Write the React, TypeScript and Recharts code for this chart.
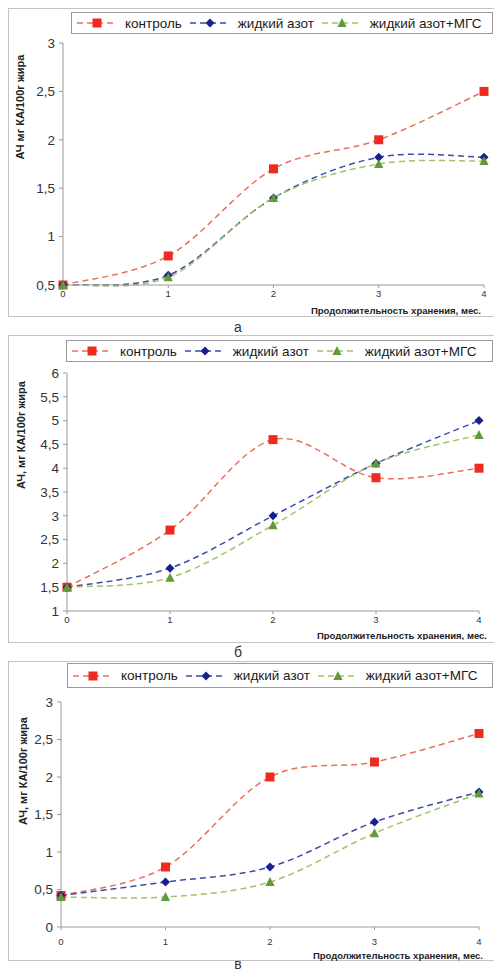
import React from 'react';
import { LineChart, Line, XAxis, YAxis, Legend } from 'recharts';

const months = [0, 1, 2, 3, 4];
const seriesNames = ['контроль', 'жидкий азот', 'жидкий азот+МГС'];

const aControl = [0.5, 0.8, 1.7, 2.0, 2.5];
const aNitrogen = [0.5, 0.6, 1.4, 1.82, 1.82];
const aNitrogenMgs = [0.5, 0.58, 1.4, 1.75, 1.78];
const aTicks = [0.5, 1, 1.5, 2, 2.5, 3];

const bControl = [1.5, 2.7, 4.6, 3.8, 4.0];
const bNitrogen = [1.5, 1.9, 3.0, 4.1, 5.0];
const bNitrogenMgs = [1.5, 1.7, 2.8, 4.1, 4.7];
const bTicks = [1, 1.5, 2, 2.5, 3, 3.5, 4, 4.5, 5, 5.5, 6];

const vControl = [0.42, 0.8, 2.0, 2.2, 2.58];
const vNitrogen = [0.42, 0.6, 0.8, 1.4, 1.8];
const vNitrogenMgs = [0.4, 0.4, 0.6, 1.25, 1.78];
const vTicks = [0, 0.5, 1, 1.5, 2, 2.5, 3];

const xLabel = 'Продолжительность хранения, мес.';
const captions = ['а', 'б', 'в'];

const FONT = '"Liberation Sans", Arial, sans-serif';
const RED = '#ef2a1e';
const RED_LINE = '#e8705a';
const BLUE = '#17208c';
const BLUE_LINE = '#3a4ca8';
const GREEN = '#5f9a3c';
const GREEN_LINE = '#a2c264';

// Excel-like smoothed line (Catmull-Rom style bezier)
function excelCurve(context: any) {
  let pts: number[][] = [];
  return {
    areaStart() {},
    areaEnd() {},
    lineStart() {
      pts = [];
    },
    lineEnd() {
      if (!pts.length) return;
      context.moveTo(pts[0][0], pts[0][1]);
      const t = 1 / 6;
      for (let i = 0; i < pts.length - 1; i++) {
        const p0 = pts[i - 1] || pts[i];
        const p1 = pts[i];
        const p2 = pts[i + 1];
        const p3 = pts[i + 2] || p2;
        context.bezierCurveTo(
          p1[0] + (p2[0] - p0[0]) * t,
          p1[1] + (p2[1] - p0[1]) * t,
          p2[0] - (p3[0] - p1[0]) * t,
          p2[1] - (p3[1] - p1[1]) * t,
          p2[0],
          p2[1]
        );
      }
    },
    point(x: number, y: number) {
      pts.push([+x, +y]);
    },
  };
}

function markerShape(kind: number, cx: number, cy: number, key?: any) {
  if (kind === 0) {
    const s = 9;
    return <rect key={key} x={cx - s / 2} y={cy - s / 2} width={s} height={s} fill={RED} />;
  }
  if (kind === 1) {
    const r = 4.5;
    return (
      <polygon
        key={key}
        points={`${cx},${cy - r} ${cx + r},${cy} ${cx},${cy + r} ${cx - r},${cy}`}
        fill={BLUE}
      />
    );
  }
  const h = 8;
  return (
    <polygon
      key={key}
      points={`${cx},${cy - h / 2 - 1} ${cx + 4.6},${cy + h / 2} ${cx - 4.6},${cy + h / 2}`}
      fill={GREEN}
    />
  );
}

const lineColors = [RED_LINE, BLUE_LINE, GREEN_LINE];

function LegendBox(props: any) {
  const payload = [...(props.payload || [])].sort(
    (a: any, b: any) => seriesNames.indexOf(a.value) - seriesNames.indexOf(b.value)
  );
  return (
    <div
      style={{
        boxSizing: 'border-box',
        width: '100%',
        height: '100%',
        border: '1px solid #9a9a9a',
        display: 'flex',
        alignItems: 'center',
        paddingLeft: 5,
        fontFamily: FONT,
        fontSize: 13.5,
        color: '#1a1a1a',
        background: '#fff',
      }}
    >
      {payload.map((p: any) => {
        const i = seriesNames.indexOf(p.value);
        return (
          <div key={p.value} style={{ display: 'flex', alignItems: 'center', marginRight: 8 }}>
            <svg width={38} height={12} style={{ display: 'block' }}>
              <line x1={0} y1={6} x2={38} y2={6} stroke={lineColors[i]} strokeWidth={1.5} strokeDasharray="6 4" />
              {markerShape(i, 20, 6)}
            </svg>
            <span style={{ marginLeft: 10, whiteSpace: 'nowrap' }}>{p.value}</span>
          </div>
        );
      })}
    </div>
  );
}

type PanelProps = {
  top: number;
  height: number;
  control: number[];
  nitrogen: number[];
  nitrogenMgs: number[];
  ticks: number[];
  yLabel: string;
  plotTop: number;
  plotBottom: number;
  plotLeft: number;
  plotRight: number;
  legend: { top: number; left: number; height: number };
  yLabelPos: { x: number; y: number };
  xLabelDy: number;
  xLabelRight: number;
  xTickDy: number;
};

function Panel(p: PanelProps) {
  const data = months.map((m, i) => ({
    month: m,
    control: p.control[i],
    nitrogen: p.nitrogen[i],
    nitrogenMgs: p.nitrogenMgs[i],
  }));
  const yAxisW = 40;
  const xAxisH = 20;
  const width = 494;
  const margin = {
    top: p.plotTop,
    bottom: p.height - p.plotBottom - xAxisH,
    left: p.plotLeft - yAxisW,
    right: width - p.plotRight,
  };
  const keys = ['control', 'nitrogen', 'nitrogenMgs'];
  return (
    <div style={{ position: 'absolute', left: 0, top: p.top, width, height: p.height }}>
      <LineChart width={width} height={p.height} data={data} margin={margin}>
        <XAxis
          dataKey="month"
          type="number"
          domain={[0, 4]}
          ticks={months}
          height={xAxisH}
          axisLine={{ stroke: '#9a9a9a' }}
          tickLine={{ stroke: '#9a9a9a' }}
          tickSize={3}
          tick={{ fontSize: 9.5, fill: '#333', fontFamily: FONT, dy: p.xTickDy - 11 }}
          label={{
            content: () => (
              <text
                x={p.xLabelRight}
                y={p.plotBottom + p.xLabelDy}
                textAnchor="end"
                dominantBaseline="central"
                fontSize={9.5}
                fontWeight="bold"
                fontFamily={FONT}
                fill="#222"
              >
                {xLabel}
              </text>
            ),
          }}
        />
        <YAxis
          type="number"
          domain={[p.ticks[0], p.ticks[p.ticks.length - 1]]}
          ticks={p.ticks}
          width={yAxisW}
          interval={0}
          axisLine={{ stroke: '#9a9a9a' }}
          tickLine={{ stroke: '#9a9a9a' }}
          tickSize={4}
          tickMargin={4}
          tickFormatter={(v: number) => String(v).replace('.', ',')}
          tick={{ fontSize: 13.5, fill: '#333', fontFamily: FONT }}
          label={{
            content: () => (
              <text
                x={p.yLabelPos.x}
                y={p.yLabelPos.y}
                transform={`rotate(-90, ${p.yLabelPos.x}, ${p.yLabelPos.y})`}
                textAnchor="middle"
                dominantBaseline="central"
                fontSize={11}
                fontWeight="bold"
                fontFamily={FONT}
                fill="#222"
              >
                {p.yLabel}
              </text>
            ),
          }}
        />
        <Legend
          layout="horizontal"
          verticalAlign="middle"
          align="center"
          wrapperStyle={{ top: p.legend.top, left: p.legend.left, width: width - p.legend.left - 1, height: p.legend.height }}
          content={<LegendBox />}
        />
        {keys.map((k, i) => (
          <Line
            key={k}
            dataKey={k}
            name={seriesNames[i]}
            type={excelCurve as any}
            stroke={lineColors[i]}
            strokeWidth={1.5}
            strokeDasharray="6 4"
            isAnimationActive={false}
            dot={(d: any) => markerShape(i, d.cx, d.cy, `${k}-${d.index}`)}
            activeDot={false}
            legendType="line"
          />
        ))}
      </LineChart>
    </div>
  );
}

const frameStyle = (top: number, bottom: number): React.CSSProperties => ({
  position: 'absolute',
  left: 8,
  top,
  width: 494 - 8,
  height: bottom - top,
  borderTop: '1px solid #c4c4c4',
  borderLeft: '1px solid #c4c4c4',
  borderBottom: '1px solid #c4c4c4',
  boxSizing: 'border-box',
});

const captionStyle = (top: number): React.CSSProperties => ({
  position: 'absolute',
  left: 0,
  width: 476,
  top,
  textAlign: 'center',
  fontFamily: FONT,
  fontSize: 14,
  color: '#333',
  lineHeight: '13px',
});

export default function App() {
  return (
    <div style={{ position: 'absolute', left: 0, top: 0, width: 494, height: 974, background: '#fff', overflow: 'hidden' }}>
      <div style={frameStyle(8, 317)} />
      <div style={frameStyle(335, 643)} />
      <div style={frameStyle(661, 961)} />
      <Panel
        top={0}
        height={320}
        control={aControl}
        nitrogen={aNitrogen}
        nitrogenMgs={aNitrogenMgs}
        ticks={aTicks}
        yLabel="АЧ мг КА/100г жира"
        plotTop={43}
        plotBottom={285}
        plotLeft={63}
        plotRight={484}
        legend={{ top: 12, left: 71, height: 22 }}
        yLabelPos={{ x: 20, y: 107 }}
        xLabelDy={25}
        xLabelRight={481}
        xTickDy={11}
      />
      <Panel
        top={320}
        height={320}
        control={bControl}
        nitrogen={bNitrogen}
        nitrogenMgs={bNitrogenMgs}
        ticks={bTicks}
        yLabel="АЧ, мг КА/100г жира"
        plotTop={53}
        plotBottom={291}
        plotLeft={67}
        plotRight={479}
        legend={{ top: 20, left: 66, height: 22 }}
        yLabelPos={{ x: 21, y: 115 }}
        xLabelDy={24}
        xLabelRight={487}
        xTickDy={11}
      />
      <Panel
        top={640}
        height={334}
        control={vControl}
        nitrogen={vNitrogen}
        nitrogenMgs={vNitrogenMgs}
        ticks={vTicks}
        yLabel="АЧ, мг КА/100г жира"
        plotTop={62}
        plotBottom={287}
        plotLeft={61}
        plotRight={479}
        legend={{ top: 23, left: 67, height: 25 }}
        yLabelPos={{ x: 23, y: 131 }}
        xLabelDy={28}
        xLabelRight={483}
        xTickDy={17}
      />
      <div style={captionStyle(321)}>{captions[0]}</div>
      <div style={captionStyle(646)}>{captions[1]}</div>
      <div style={captionStyle(958)}>{captions[2]}</div>
    </div>
  );
}
